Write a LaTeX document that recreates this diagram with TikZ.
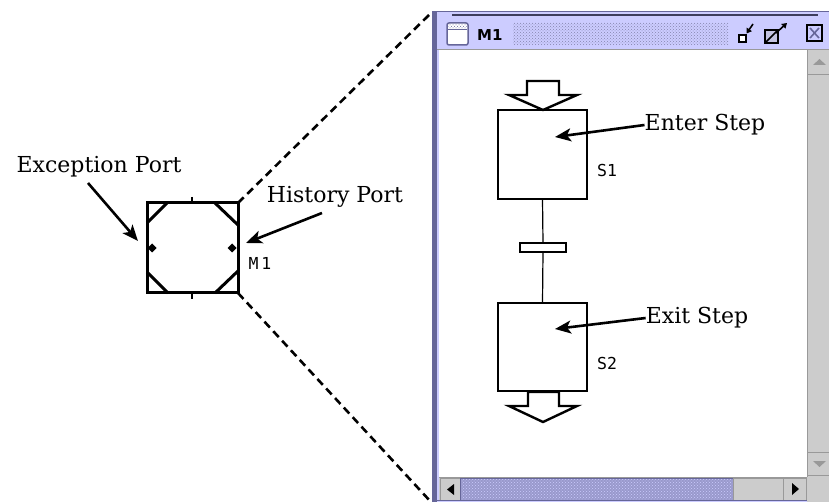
\documentclass[tikz,border=0pt]{standalone}
\usepackage{fontspec}
\setmainfont{DejaVu Serif}
\newfontfamily\monof{DejaVu Sans Mono}
\newfontfamily\titlef{DejaVu Sans}
\usetikzlibrary{arrows.meta,patterns}
\definecolor{lav}{HTML}{CCCCFF}
\definecolor{lavdark}{HTML}{666699}
\definecolor{lavmid}{HTML}{9999CC}
\definecolor{sbgray}{HTML}{CCCCCC}
\definecolor{sbedge}{HTML}{999999}
\begin{document}
\begin{tikzpicture}[x=1pt,y=-1pt,
  lbl/.style={font=\fontsize{22}{24}\selectfont, inner sep=0pt},
  tag/.style={font=\monof\fontsize{16.5}{18}\selectfont, inner sep=0pt},
  pointer/.style={line width=2.6pt, -{Stealth[length=16pt,width=13pt,inset=4pt]}},
  stepbox/.style={draw, line width=2.6pt, fill=white, minimum width=89pt, minimum height=89pt, inner sep=0pt, outer sep=0pt},
  hollowarrow/.style={draw, line width=2.4pt, fill=white, line join=miter},
  zoomline/.style={line width=2.6pt, dash pattern=on 8pt off 5pt},
  btn/.style={fill=sbgray, draw=sbedge, line width=1pt},
]
\useasboundingbox (0,0) rectangle (829,502);

% ---------- collapsed macro step M1 ----------
\node[draw, line width=3pt, minimum width=91pt, minimum height=90pt, inner sep=0pt, outer sep=0pt] (m1sq) at (192.5,248) {};
\draw[line width=3pt] (147,223) -- (167,203);
\draw[line width=3pt] (215,203) -- (238,225);
\draw[line width=3pt] (147,272) -- (168,293);
\draw[line width=3pt] (215,293) -- (238,271);
\draw[line width=1.2pt] (192,197) -- (192,203);
\draw[line width=1.2pt] (192,293) -- (192,299);
\fill (152,243.5) -- (156.5,248) -- (152,252.5) -- (147.5,248) -- cycle;
\fill (232,243.5) -- (236.5,248) -- (232,252.5) -- (227.5,248) -- cycle;
\node[tag] (m1tag) at (260,263) {M\kern3pt1};

\node[lbl] (exc) at (99,167) {Exception Port};
\node[lbl] (hist) at (335,197) {History Port};
\coordinate (excfrom) at (88,183);
\coordinate (excto) at (138,241);
\coordinate (histfrom) at (322,213);
\coordinate (histto) at (246,243);
\draw[pointer] (excfrom) -- (excto);
\draw[pointer] (histfrom) -- (histto);

% zoom lines
\coordinate (wtop) at (431,13);
\coordinate (wbot) at (431,502);
\draw[zoomline] (m1sq.north east) -- (wtop);
\draw[zoomline] (m1sq.south east) -- (wbot);

% ---------- window ----------
\fill[lav] (432,11) rectangle (829,502);
\fill[lavdark] (432,11) rectangle (436.5,502);
\draw[lavdark, line width=1.5pt] (432,11.75) -- (829,11.75);
\draw[lavdark!60!black, line width=1.3pt] (452,15) -- (818,15);
% title icon
\draw[lavdark, line width=1.5pt, fill=white, rounded corners=2pt] (447,23) rectangle (468,45);
\fill[pattern=crosshatch dots, pattern color=lavdark] (448.5,24.5) rectangle (466.5,29);
\draw[lavdark, line width=1pt] (448,29.5) -- (467,29.5);
\node[font=\titlef\bfseries\fontsize{15}{16}\selectfont, inner sep=0pt, anchor=west] (wtitle) at (477,35) {M1};
% title texture
\fill[pattern=crosshatch dots, pattern color=lavdark!80] (513,23) rectangle (728,45);
% minimize icon
\draw[line width=1.6pt, fill=white] (739,35) rectangle (746,42);
\draw[line width=1.6pt, -{Triangle[length=5pt,width=6pt]}] (753,24) -- (746.5,33.5);
% maximize icon
\draw[line width=1.6pt, fill=lavmid!60] (765,30) rectangle (778,43);
\draw[line width=1.6pt] (766,42) -- (778,30);
\draw[line width=1.6pt, -{Triangle[length=5pt,width=6pt]}] (776,33) -- (787,23);
% close icon
\draw[line width=1.8pt, fill=lav] (807,25) rectangle (822,41);
\draw[lavdark, line width=1.6pt] (810,28) -- (819,38) (819,28) -- (810,38);
% content
\fill[white] (439,50) rectangle (807,477);
\draw[sbedge, line width=1pt] (437,50) -- (829,50);
% vertical scrollbar
\fill[sbgray] (807,50.5) rectangle (829,502);
\draw[sbedge, line width=1pt] (807.5,50.5) -- (807.5,477);
\draw[sbedge, line width=1pt] (807.5,75) -- (829,75);
\fill[sbedge] (813,65) -- (826,65) -- (819.5,59) -- cycle;
\draw[sbedge, line width=1pt] (807.5,452) -- (829,452);
\draw[sbedge, line width=1pt] (807.5,475.5) -- (829,475.5);
\fill[sbedge] (813,461) -- (826,461) -- (819.5,467) -- cycle;
% horizontal scrollbar
\fill[sbgray] (439,477) rectangle (807,500);
\draw[sbedge, line width=1pt] (439,477.5) -- (807,477.5);
\draw[btn] (440,478) rectangle (460,500);
\fill (447,489.5) -- (454,484) -- (454,495) -- cycle;
\fill[lavmid] (460,478) rectangle (733,500);
\fill[pattern=crosshatch dots, pattern color=lav] (461,479) rectangle (732,499);
\draw[lavdark, line width=1pt] (460,478) rectangle (733,500);
\draw[btn] (733,478) rectangle (783,500);
\draw[btn] (783,478) rectangle (806,500);
\fill (799,489) -- (792,483) -- (792,495) -- cycle;
\draw[lavdark, line width=1pt] (437,500.5) -- (807,500.5);

% ---------- steps inside window ----------
\node[stepbox] (s1) at (542.5,154.5) {};
\node[stepbox, minimum height=88pt] (s2) at (542.5,347) {};
\node[draw, line width=2.4pt, fill=white, minimum width=46pt, minimum height=9pt, inner sep=0pt, outer sep=0pt] (t1) at (543,247.5) {};
\draw[line width=1.2pt] (s1.south) -- (t1.north);
\draw[line width=1.2pt] (t1.south) -- (s2.north);
\draw[hollowarrow] (527,81) -- (559,81) -- (559,95) -- (577,95) -- (543,110) -- (509,95) -- (527,95) -- cycle;
\draw[hollowarrow] (528,392) -- (559,392) -- (559,406) -- (577,406) -- (543,422) -- (509,406) -- (528,406) -- cycle;
\node[tag] (s1tag) at (607,170) {S1};
\node[tag] (s2tag) at (607,363) {S2};
\node[lbl] (enter) at (705,125) {Enter Step};
\node[lbl] (exit) at (697,318) {Exit Step};
\coordinate (enterto) at (555,137);
\coordinate (exitto) at (555,329);
\draw[pointer] (enter.west) -- (enterto);
\draw[pointer] (exit.west) -- (exitto);
\end{tikzpicture}
\end{document}
